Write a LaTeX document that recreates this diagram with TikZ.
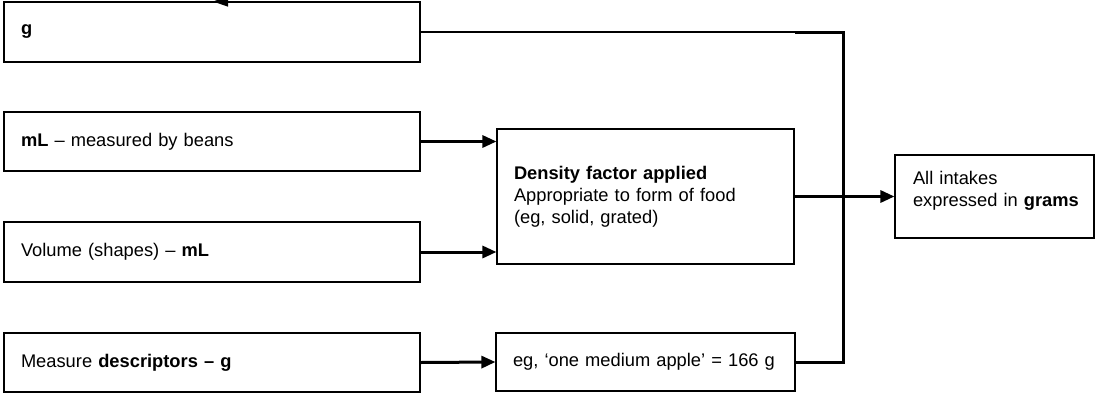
\documentclass[tikz,border=0pt]{standalone}
\usepackage{fontspec}
\setmainfont{Liberation Sans}
\usetikzlibrary{arrows.meta}
\begin{document}
\begin{tikzpicture}[x=1pt,y=-1pt,
  box/.style={draw, line width=1.1pt, inner xsep=17pt, inner ysep=0pt, align=left,
    font=\fontsize{18.3}{22}\selectfont},
  thinline/.style={line width=1.3pt},
  thickline/.style={line width=3pt},
  thickarrow/.style={line width=3pt, -{Triangle[length=14pt,width=12pt]}},
  toparrow/.style={line width=1.3pt, -{Triangle[length=15pt,width=10pt]}}]
\useasboundingbox (0,0) rectangle (1100,394);
\node[box, text width=382pt, minimum height=60pt] (g) at (212,32) {\textbf{g}};
\node[box, text width=382pt, minimum height=59pt] (ml) at (212,141.5) {\textbf{mL} -- measured by beans};
\node[box, text width=382pt, minimum height=60pt] (vol) at (212,252) {\raisebox{3pt}{Volume (shapes) -- \textbf{mL}}};
\node[box, text width=382pt, minimum height=59pt] (meas) at (212,362.5) {Measure \textbf{descriptors -- g}};
\node[box, text width=263pt, minimum height=135pt] (dens) at (645.5,196.5)
  {\textbf{Density factor applied}\\Appropriate to form of food\\(eg, solid, grated)};
\node[box, text width=265pt, minimum height=58pt] (eg) at (645.5,362) {eg, ‘one medium apple’ = 166 g};
\node[box, text width=183pt, inner xsep=8pt, minimum height=83pt] (all) at (994.5,196.5)
  {\hspace*{10pt}All intakes\\\hspace*{10pt}expressed in \textbf{grams}\\[-14pt]\strut};
\coordinate (tipt) at (213,1.5);
\coordinate (tops) at (420,1.5);
\coordinate (thk) at (795,32);
\coordinate (j1) at (843,32);
\coordinate (j2) at (843,362);
\draw[toparrow] (tops) -- (tipt);
\draw[thinline] (g.east) -- (thk);
\draw[thickline, line join=miter] (thk) -- (j1) -- (j2) -- (eg.east);
\draw[thickarrow] (ml.east) -- (dens.west |- ml.east);
\draw[thickarrow] (vol.east) -- (dens.west |- vol.east);
\draw[thickarrow] (meas.east) -- (eg.west);
\draw[thickarrow] (dens.east) -- (all.west);
\end{tikzpicture}
\end{document}
